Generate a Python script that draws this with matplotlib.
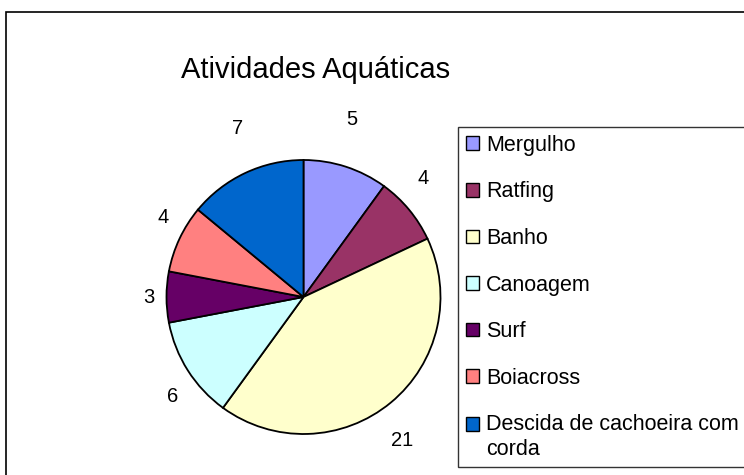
import numpy as np
import matplotlib.pyplot as plt
from matplotlib.patches import Rectangle

plt.rcParams['font.family'] = ['Liberation Sans', 'DejaVu Sans']

categorias = ['Mergulho', 'Ratfing', 'Banho', 'Canoagem', 'Surf', 'Boiacross',
              'Descida de cachoeira com\ncorda']
valores = [5, 4, 21, 6, 3, 4, 7]
cores = ['#9999FF', '#993366', '#FFFFCC', '#CCFFFF', '#660066', '#FF8080', '#0066CC']

W, H = 744, 475
fig = plt.figure(figsize=(W / 100, H / 100), dpi=100)

# axes em coordenadas de pixel
ax = fig.add_axes([0, 0, 1, 1])

cx, cy, R = 303.5, H - 297, 137
wedges, texts = ax.pie(valores, labels=[str(v) for v in valores], colors=cores,
                       startangle=90, counterclock=False, center=(cx, cy),
                       radius=R, frame=True,
                       wedgeprops=dict(edgecolor='black', linewidth=1.3),
                       textprops=dict(fontsize=14.5))
ax.set_xlim(0, W)
ax.set_ylim(0, H)
ax.set_aspect('equal')
ax.axis('off')

# rótulos fora da pizza, numa elipse (como no Excel)
for w, t in zip(wedges, texts):
    ang = np.deg2rad((w.theta1 + w.theta2) / 2)
    t.set_position((cx + 1.13 * R * np.cos(ang), cy + 1.36 * R * np.sin(ang)))
    t.set_ha('center')
    t.set_va('center')

# moldura externa (borda direita e inferior ficam fora da imagem)
ax.add_patch(Rectangle((6, -10), W + 20, H - 12 + 10, fill=False,
                       edgecolor='black', linewidth=1.2, clip_on=False))

fig.text(181 / W, 1 - 70 / H, 'Atividades Aquáticas', fontsize=21,
         ha='left', va='center')

leg = fig.legend(wedges, categorias, loc='upper left',
                 bbox_to_anchor=(458 / W, 1 - 127 / H), frameon=True,
                 fancybox=False, edgecolor='black', fontsize=15.5,
                 handlelength=0.6, handleheight=0.6, handletextpad=0.35,
                 labelspacing=1.19, borderpad=0.36, borderaxespad=0)
leg.get_frame().set_linewidth(1.0)
for h in leg.legend_handles:
    h.set_edgecolor('black')
    h.set_linewidth(1.0)
# marcador da última entrada alinhado com a primeira linha do texto
ult = leg.legend_handles[-1]
ult.set_y(ult.get_y() + 9.5)

fig.savefig('out.png', dpi=100)
